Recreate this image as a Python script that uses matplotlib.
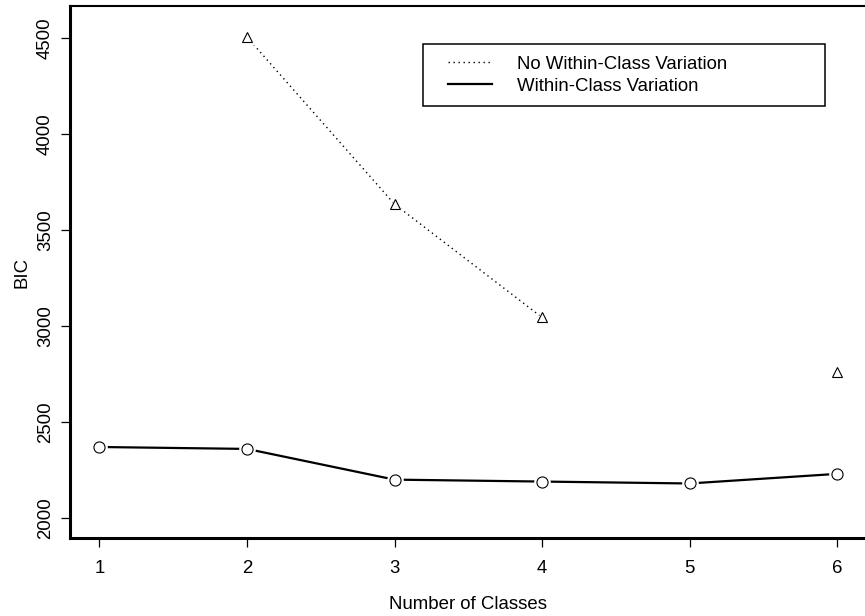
# -*- coding: utf-8 -*-
"""BIC selon le nombre de classes (avec / sans variation intra-classe)."""

import numpy as np
import matplotlib
matplotlib.use("Agg")
import matplotlib.pyplot as plt
from matplotlib.legend_handler import HandlerLine2D

plt.rcParams['font.family'] = ['Liberation Sans', 'DejaVu Sans']

# Données
n_classes = [1, 2, 3, 4, 5, 6]
bic_no_within = [np.nan, 4505, 3635, 3045, np.nan, 2760]
bic_within = [2370, 2360, 2200, 2190, 2180, 2230]
x_ticks = [1, 2, 3, 4, 5, 6]
y_ticks = [2000, 2500, 3000, 3500, 4000, 4500]
label_no_within = "No Within-Class Variation"
label_within = "Within-Class Variation"

fs = 13.4

fig = plt.figure(figsize=(8.65, 6.16), dpi=100)
ax = fig.add_axes([70 / 865, 78 / 616, 796.5 / 865, 532 / 616])

# courbes (style R type="b" : petit blanc autour des points)
l1, = ax.plot(n_classes, bic_no_within, color='black', lw=1.0,
              linestyle=(0, (1, 2.6)), zorder=2)
l2, = ax.plot(n_classes, bic_within, color='black', lw=1.6, zorder=2)

ax.plot(n_classes, bic_no_within, ls='none', marker='^', ms=11,
        mfc='white', mec='none', zorder=3)
ax.plot(n_classes, bic_within, ls='none', marker='o', ms=12,
        mfc='white', mec='none', zorder=3)
ax.plot(n_classes, bic_no_within, ls='none', marker='^', ms=7,
        mfc='white', mec='black', mew=0.8, zorder=4)
ax.plot(n_classes, bic_within, ls='none', marker='o', ms=8,
        mfc='white', mec='black', mew=0.8, zorder=4)

ax.set_xlim(0.8, 6.2)
ax.set_ylim(1896, 4667)
ax.set_xticks(x_ticks)
ax.set_yticks(y_ticks)
ax.set_yticklabels([str(v) for v in y_ticks], rotation=90, va='center')

ax.tick_params(axis='both', direction='out', length=6.5, width=0.9,
               labelsize=fs, color='black')
ax.tick_params(axis='x', pad=9)
ax.tick_params(axis='y', pad=5)

ax.set_xlabel("Number of Classes", fontsize=fs, labelpad=14)
ax.set_ylabel("BIC", fontsize=fs, labelpad=5)

for side in ['left', 'bottom']:
    ax.spines[side].set_linewidth(2.2)
ax.spines['top'].set_linewidth(1.5)
ax.spines['right'].set_linewidth(1.5)

leg = ax.legend([l1, l2], [label_no_within, label_within],
                loc='upper left',
                bbox_to_anchor=(353 / 796.5, 1 - 38 / 532, 402 / 796.5, 0.0),
                mode='expand', fontsize=13.4, frameon=True, fancybox=False,
                framealpha=1, edgecolor='black', borderpad=0.62,
                labelspacing=0.28, handlelength=3.1, handletextpad=1.35,
                borderaxespad=0,
                handler_map={l1: HandlerLine2D(xpad=0.72),
                             l2: HandlerLine2D(xpad=0.72)})
leg.get_frame().set_linewidth(1.1)

fig.savefig("out.png", dpi=100)
